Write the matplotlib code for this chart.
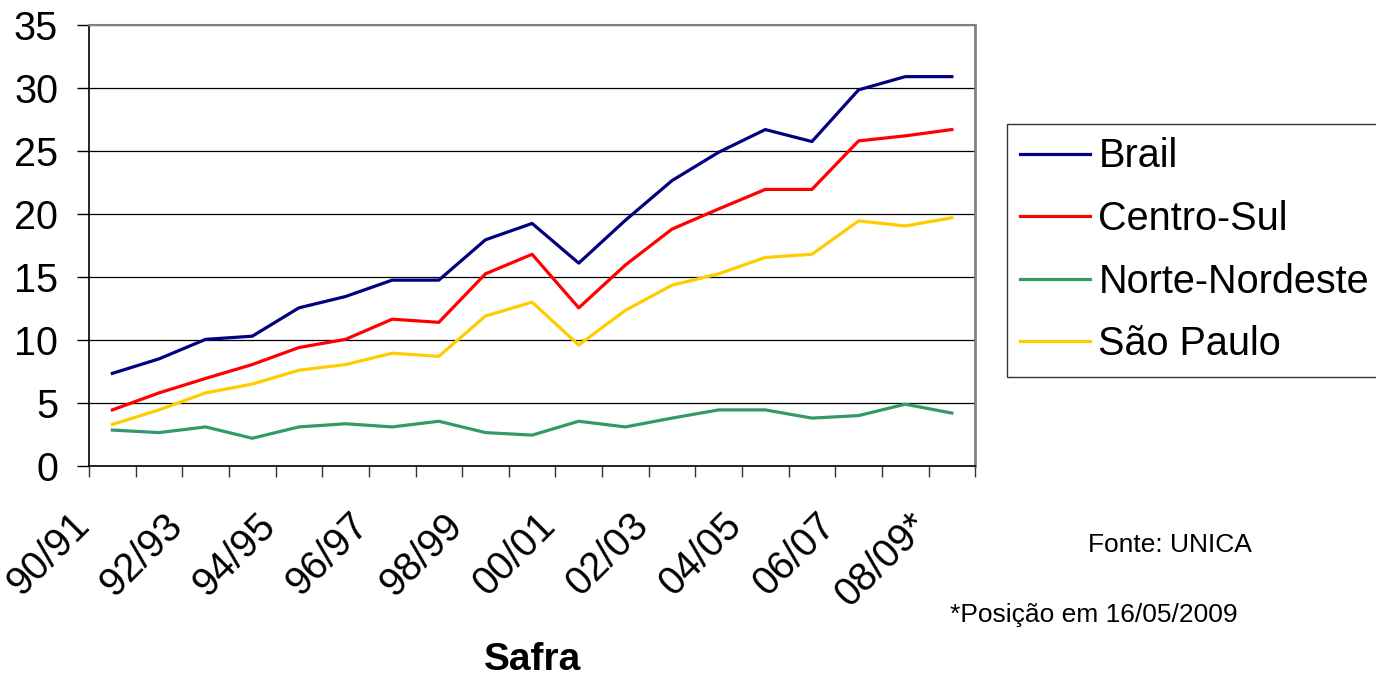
import matplotlib.pyplot as plt
import matplotlib.transforms as mtransforms
import numpy as np

plt.rcParams['font.family'] = ['Liberation Sans', 'DejaVu Sans']

safras = ['90/91', '91/92', '92/93', '93/94', '94/95', '95/96', '96/97', '97/98',
          '98/99', '99/00', '00/01', '01/02', '02/03', '03/04', '04/05', '05/06',
          '06/07', '07/08', '08/09*']

brasil = [7.35, 8.5, 10.05, 10.3, 12.55, 13.45, 14.75, 14.75, 17.95, 19.25,
          16.1, 19.5, 22.65, 24.9, 26.7, 25.75, 29.85, 30.9, 30.9]
centro_sul = [4.45, 5.8, 6.95, 8.05, 9.4, 10.05, 11.65, 11.4, 15.25, 16.8,
              12.55, 15.95, 18.8, 20.4, 21.95, 21.95, 25.8, 26.2, 26.7]
norte_nordeste = [2.85, 2.65, 3.1, 2.2, 3.1, 3.35, 3.1, 3.55, 2.65, 2.45,
                  3.55, 3.1, 3.8, 4.45, 4.45, 3.8, 4.0, 4.9, 4.2]
sao_paulo = [3.3, 4.45, 5.8, 6.5, 7.6, 8.05, 8.95, 8.7, 11.9, 13.0,
             9.6, 12.35, 14.35, 15.25, 16.55, 16.8, 19.45, 19.05, 19.7]

series = [
    ('Brail', brasil, '#000080'),
    ('Centro-Sul', centro_sul, '#FF0000'),
    ('Norte-Nordeste', norte_nordeste, '#339966'),
    ('São Paulo', sao_paulo, '#FFCC00'),
]

fig = plt.figure(figsize=(13.76, 6.77), dpi=100)
ax = fig.add_axes([0.0647, 0.3117, 0.644, 0.6514])

x = np.arange(len(safras))
for name, vals, color in series:
    ax.plot(x, vals, color=color, lw=2.3, label=name, zorder=3)

ax.set_xlim(-0.5, len(safras) - 0.5)
ax.set_ylim(0, 35)
ax.set_yticks(np.arange(0, 36, 5))
ax.yaxis.grid(True, color='black', lw=0.9)
ax.set_axisbelow(True)
ax.tick_params(axis='y', labelsize=28.5, length=8.6, width=1, pad=13.7)

# category boundaries get the tick marks, labels every other safra
ax.set_xticks(np.arange(-0.5, len(safras)), minor=True)
ax.set_xticks(x[::2])
ax.set_xticklabels(safras[::2], rotation=45, ha='right', va='top')
ax.tick_params(axis='x', which='minor', length=8, width=1, color='#333333')
ax.tick_params(axis='x', which='major', length=0, labelsize=28.5, pad=29)
shift = mtransforms.ScaledTranslation(-16 / 100, 0, fig.dpi_scale_trans)
for lbl in ax.get_xticklabels():
    lbl.set_transform(lbl.get_transform() + shift)

for side in ['left', 'bottom']:
    ax.spines[side].set_color('black')
    ax.spines[side].set_linewidth(1.2)
ax.spines['top'].set_color('#808080')
ax.spines['top'].set_linewidth(1.5)
ax.spines['right'].set_color('#808080')
ax.spines['right'].set_linewidth(2)

ax.set_xlabel('Safra', fontsize=28, fontweight='bold', va='baseline')
ax.xaxis.set_label_coords(0.5, 0.0103,
                          transform=mtransforms.blended_transform_factory(ax.transAxes, fig.transFigure))

leg = fig.legend(loc='upper left', bbox_to_anchor=(1007 / 1376, 1 - 124 / 677),
                 fontsize=28.5, frameon=True, fancybox=False, edgecolor='black',
                 handlelength=1.75, handletextpad=0.22, borderpad=0.34,
                 labelspacing=0.62, borderaxespad=0)
leg.get_frame().set_linewidth(1)

fig.text(1088 / 1376, 0.1846, 'Fonte: UNICA', fontsize=19, va='baseline', ha='left')
fig.text(950 / 1376, 0.0812, '*Posição em 16/05/2009', fontsize=19, va='baseline', ha='left')

fig.savefig('out.png', dpi=100)
